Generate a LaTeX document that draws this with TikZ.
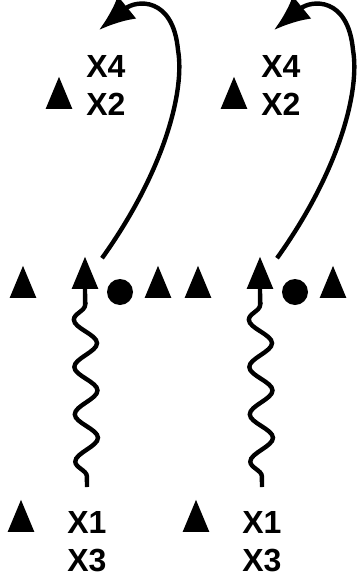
\documentclass[tikz,border=0pt]{standalone}
\usepackage{fontspec}
\setmainfont{Liberation Sans}
\usetikzlibrary{arrows.meta,positioning,calc,shapes.geometric,decorations.pathmorphing}

\tikzset{
  tri/.style={isosceles triangle,shape border rotate=90,isosceles triangle stretches,
    fill=black,inner sep=0pt,minimum width=20pt,minimum height=24pt},
  dot/.style={circle,fill=black,inner sep=0pt,minimum size=19.5pt},
  lab/.style={anchor=base west,inner sep=0pt,font=\bfseries\fontsize{24pt}{28pt}\selectfont},
  wave/.style={line width=3.3pt,decorate,decoration={snake,segment length=35.5pt,
    amplitude=8.6pt,pre length=8pt,post length=8pt}},
  hop/.style={line width=3.3pt,-{Latex[length=27pt,width=22pt]}}
}

\begin{document}
\begin{tikzpicture}[x=0.75pt,y=-0.75pt]
  \useasboundingbox (0,0) rectangle (358,575);
  \node[tri] (t1) at (23,289) {};
  \node[tri] (t2) at (85,280) {};
  \node[dot] (c1) at (120,292) {};
  \node[tri] (t3) at (158,289) {};
  \node[tri] (t4) at (198,289) {};
  \node[tri] (t5) at (260,280) {};
  \node[dot] (c2) at (295,292) {};
  \node[tri] (t6) at (333,289) {};

  \node[tri] (top1) at (59,100) {};
  \node[lab] (x4a) at (86,77) {X4};
  \node[lab] (x2a) at (86,115) {X2};
  \node[tri] (top2) at (234,100) {};
  \node[lab] (x4b) at (261,77) {X4};
  \node[lab] (x2b) at (261,115) {X2};

  \node[tri] (bot1) at (21,523) {};
  \node[lab] (x1a) at (67,533) {X1};
  \node[lab] (x3a) at (67,571) {X3};
  \node[tri] (bot2) at (196,523) {};
  \node[lab] (x1b) at (242,533) {X1};
  \node[lab] (x3b) at (242,571) {X3};

  \coordinate (wa) at (87,487);
  \coordinate (wb) at (262,487);
  \draw[wave] (wa) -- (t2.lower side);
  \draw[wave] (wb) -- (t5.lower side);

  \coordinate (ha) at (99,30);
  \coordinate (hb) at (274,30);
  \draw[hop] ($(t2.apex)+(17,2)$) .. controls (165,170) and (185,90) .. (178,50)
    .. controls (173,-4) and (136,0) .. (ha);
  \draw[hop] ($(t5.apex)+(17,2)$) .. controls (340,170) and (360,90) .. (353,50)
    .. controls (348,-4) and (311,0) .. (hb);
\end{tikzpicture}
\end{document}
